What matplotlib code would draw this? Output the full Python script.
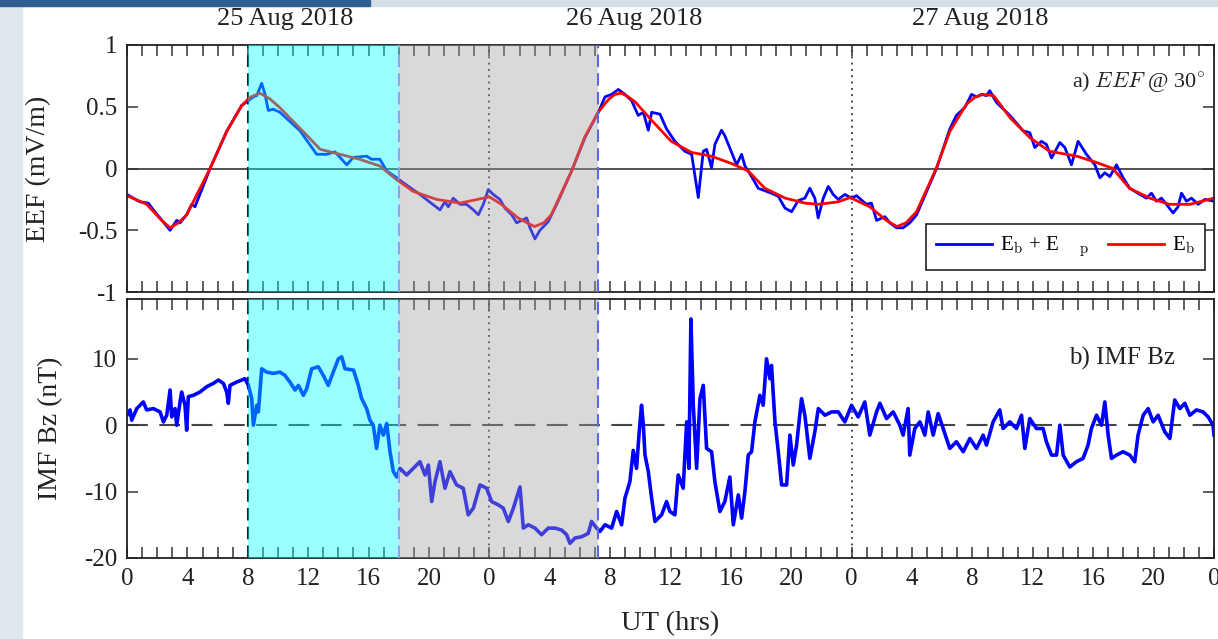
import numpy as np
import matplotlib
matplotlib.use('Agg')
import matplotlib.pyplot as plt
import matplotlib.transforms as mtransforms
from matplotlib.patches import Rectangle
from matplotlib.ticker import MultipleLocator, FuncFormatter

plt.rcParams['font.family'] = ['Liberation Serif', 'DejaVu Serif']
plt.rcParams['mathtext.fontset'] = 'cm'
plt.rcParams['axes.unicode_minus'] = False

# Hours since 25 Aug 2018 00 UT
# EEF background (Eb), smooth red curve, mV/m
eb_hours = [0.0, 1.3, 2.3, 2.85, 3.4, 3.95, 5.5, 6.6, 7.6, 8.15,
            8.8, 9.47, 10.1, 11.5, 12.8, 14.1, 15.4, 16.75, 17.85, 18.95,
            20.5, 22.05, 24.0, 24.8, 25.9, 26.5, 27.0, 27.6, 28.1, 29.45,
            30.3, 31.2, 31.9, 32.32, 32.75, 33.2, 33.65, 34.75, 36.05, 37.4,
            38.7, 40.05, 41.15, 42.25, 43.6, 44.9, 45.8, 47.1, 47.9, 49.2,
            50.3, 51.0, 51.6, 52.3, 53.6, 54.5, 55.6, 56.16, 56.7, 57.4,
            57.9, 58.5, 59.8, 61.1, 62.9, 64.2, 65.3, 66.4, 67.75, 69.05,
            70.4, 72.0]
eb_values = [-0.22, -0.29, -0.42, -0.48, -0.44, -0.375, 0.0, 0.30, 0.51, 0.577,
             0.61, 0.563, 0.495, 0.32, 0.155, 0.115, 0.075, 0.02, -0.09, -0.185,
             -0.25, -0.28, -0.23, -0.29, -0.40, -0.44, -0.47, -0.44, -0.375, -0.02,
             0.25, 0.455, 0.56, 0.60, 0.61, 0.58, 0.54, 0.39, 0.22, 0.13,
             0.10, 0.04, -0.02, -0.16, -0.24, -0.28, -0.29, -0.27, -0.235, -0.31,
             -0.42, -0.47, -0.44, -0.35, 0.0, 0.30, 0.52, 0.577, 0.60, 0.59,
             0.51, 0.41, 0.25, 0.14, 0.10, 0.05, 0.0, -0.16, -0.24, -0.29,
             -0.29, -0.24]

# EEF total (Eb + Ep), blue curve, mV/m
eef_hours = [0.0, 0.42, 0.86, 1.41, 1.74, 2.85, 3.29, 3.51, 3.95, 4.28,
             4.5, 5.5, 6.6, 7.59, 8.37, 8.59, 8.92, 9.14, 9.36, 9.69,
             10.13, 11.46, 12.56, 13.22, 13.77, 14.55, 14.99, 15.87, 16.2, 16.75,
             17.2, 17.86, 18.3, 19.4, 20.73, 21.06, 21.28, 21.61, 22.05, 22.49,
             22.94, 23.27, 23.6, 23.93, 24.26, 24.7, 25.03, 25.48, 25.81, 26.14,
             26.47, 26.69, 27.02, 27.35, 27.9, 28.46, 29.45, 30.33, 31.22, 31.66,
             32.1, 32.54, 32.98, 33.42, 33.86, 34.2, 34.53, 34.75, 35.3, 35.74,
             36.29, 36.95, 37.4, 37.84, 38.17, 38.39, 38.72, 38.94, 39.38, 39.6,
             40.05, 40.38, 40.71, 40.93, 41.37, 41.81, 42.69, 43.14, 43.58, 44.02,
             44.46, 44.9, 45.23, 45.56, 45.78, 46.12, 46.45, 46.78, 47.11, 47.55,
             47.99, 48.32, 48.98, 49.31, 49.65, 50.2, 50.53, 50.97, 51.41, 51.85,
             52.3, 53.62, 54.5, 54.94, 55.5, 55.94, 56.27, 56.6, 56.93, 57.15,
             57.59, 58.48, 59.36, 59.8, 60.13, 60.57, 60.9, 61.24, 61.79, 62.12,
             62.56, 63.0, 63.55, 64.11, 64.44, 64.77, 65.1, 65.54, 65.98, 66.42,
             67.09, 67.53, 67.86, 68.19, 68.52, 68.85, 69.29, 69.62, 69.85, 70.18,
             70.51, 70.95, 71.4, 72.0]
eef_values = [-0.21, -0.24, -0.27, -0.28, -0.335, -0.50, -0.42, -0.44, -0.375, -0.29,
              -0.31, 0.0, 0.30, 0.51, 0.58, 0.59, 0.69, 0.60, 0.47, 0.48,
              0.455, 0.305, 0.115, 0.115, 0.135, 0.03, 0.09, 0.10, 0.075, 0.075,
              -0.02, -0.075, -0.115, -0.21, -0.335, -0.27, -0.31, -0.24, -0.29, -0.29,
              -0.335, -0.375, -0.29, -0.17, -0.21, -0.25, -0.32, -0.375, -0.44, -0.42,
              -0.40, -0.48, -0.57, -0.50, -0.43, -0.29, -0.02, 0.25, 0.455, 0.58,
              0.60, 0.64, 0.60, 0.55, 0.43, 0.455, 0.31, 0.455, 0.44, 0.32,
              0.22, 0.14, 0.115, -0.235, 0.14, 0.155, 0.005, 0.195, 0.31, 0.265,
              0.13, 0.03, 0.115, 0.02, -0.065, -0.16, -0.20, -0.225, -0.32, -0.35,
              -0.26, -0.24, -0.16, -0.24, -0.40, -0.24, -0.145, -0.21, -0.25, -0.21,
              -0.24, -0.22, -0.29, -0.28, -0.42, -0.39, -0.44, -0.48, -0.48, -0.44,
              -0.375, 0.0, 0.32, 0.43, 0.495, 0.60, 0.58, 0.60, 0.59, 0.63,
              0.535, 0.43, 0.305, 0.29, 0.17, 0.22, 0.195, 0.085, 0.21, 0.17,
              0.03, 0.22, 0.115, 0.03, -0.075, -0.035, -0.065, 0.03, -0.075, -0.16,
              -0.21, -0.24, -0.20, -0.265, -0.24, -0.29, -0.36, -0.31, -0.20, -0.265,
              -0.24, -0.29, -0.25, -0.265]

# IMF Bz, nT
bz_hours = [0.0, 0.2, 0.31, 0.64, 1.08, 1.3, 1.74, 2.19, 2.41, 2.63,
            2.85, 2.96, 3.18, 3.29, 3.51, 3.62, 3.84, 3.95, 4.06, 4.39,
            4.83, 5.28, 5.72, 6.05, 6.38, 6.6, 6.71, 6.82, 7.26, 7.59,
            7.81, 8.04, 8.26, 8.37, 8.59, 8.7, 8.92, 9.25, 9.69, 10.13,
            10.46, 10.79, 11.13, 11.35, 11.68, 11.9, 12.23, 12.67, 13.0, 13.33,
            13.66, 14.0, 14.22, 14.44, 15.0, 15.32, 15.54, 15.87, 16.09, 16.31,
            16.53, 16.75, 16.98, 17.2, 17.42, 17.64, 17.86, 18.08, 18.52, 18.96,
            19.4, 19.74, 19.96, 20.18, 20.4, 20.73, 21.06, 21.39, 21.83, 22.27,
            22.6, 22.94, 23.38, 23.82, 24.15, 24.59, 24.92, 25.26, 25.59, 26.03,
            26.25, 26.58, 27.02, 27.46, 27.9, 28.35, 28.79, 29.12, 29.34, 29.67,
            30.11, 30.55, 30.77, 31.1, 31.33, 31.66, 32.1, 32.43, 32.76, 32.98,
            33.31, 33.53, 33.75, 33.91, 34.08, 34.2, 34.31, 34.53, 34.75, 34.97,
            35.41, 35.74, 35.96, 36.29, 36.51, 36.84, 37.07, 37.22, 37.35, 37.51,
            37.73, 37.95, 38.17, 38.39, 38.72, 38.94, 39.27, 39.6, 39.93, 40.16,
            40.49, 40.71, 40.93, 41.15, 41.37, 41.59, 41.92, 42.14, 42.36, 42.58,
            42.69, 42.92, 43.14, 43.36, 43.69, 43.91, 44.13, 44.35, 44.68, 44.9,
            45.23, 45.56, 45.79, 46.23, 46.67, 47.11, 47.55, 47.99, 48.43, 48.87,
            49.2, 49.65, 49.87, 50.31, 50.75, 51.19, 51.41, 51.74, 51.85, 52.18,
            52.52, 52.85, 53.07, 53.4, 53.73, 54.06, 54.5, 54.94, 55.39, 55.83,
            56.27, 56.71, 56.93, 57.37, 57.81, 58.03, 58.48, 58.92, 59.25, 59.47,
            59.8, 60.24, 60.68, 60.9, 61.24, 61.57, 61.79, 62.01, 62.45, 62.89,
            63.33, 63.66, 63.88, 64.22, 64.55, 64.77, 64.99, 65.21, 65.54, 65.98,
            66.42, 66.75, 66.97, 67.31, 67.64, 67.97, 68.3, 68.74, 69.08, 69.4,
            69.74, 70.07, 70.4, 70.84, 71.28, 71.61, 71.94, 72.0]
bz_values = [1.5, 2.3, 0.75, 2.5, 3.5, 2.3, 2.5, 2.0, 0.5, 1.5,
             5.3, 1.25, 2.5, 0.0, 3.5, 5.0, 3.0, -0.75, 4.3, 4.5,
             5.0, 5.8, 6.3, 6.8, 6.3, 5.0, 3.3, 6.0, 6.5, 6.8,
             7.0, 6.0, 4.0, 0.0, 3.0, 2.0, 8.5, 8.0, 7.8, 8.0,
             7.5, 6.5, 5.3, 6.0, 4.5, 5.5, 8.5, 8.8, 7.5, 6.0,
             8.0, 10.0, 10.3, 8.5, 8.3, 6.0, 4.0, 2.5, 0.75, 0.0,
             -3.5, 0.0, -1.5, 0.25, -4.0, -7.0, -7.8, -6.5, -7.5, -6.5,
             -5.5, -7.5, -6.0, -11.5, -8.5, -5.5, -9.5, -7.0, -9.0, -9.5,
             -13.5, -12.5, -9.0, -9.5, -11.5, -12.0, -12.5, -14.5, -12.5, -9.3,
             -15.5, -15.0, -15.5, -16.5, -15.5, -15.5, -15.8, -16.5, -17.8, -17.0,
             -16.8, -16.3, -14.5, -15.5, -16.0, -15.0, -15.5, -13.0, -15.0, -11.0,
             -8.5, -3.8, -6.5, -1.5, 3.0, 0.0, -4.5, -7.0, -11.0, -14.5,
             -13.5, -11.5, -13.0, -13.5, -7.5, -9.5, 0.5, -6.5, 16.0, 3.0,
             -6.5, 4.0, 6.0, -3.5, -4.0, -8.5, -13.0, -11.5, -7.8, -15.0,
             -10.5, -14.0, -10.0, -4.5, -4.0, 0.5, 4.5, 3.0, 10.0, 7.0,
             9.0, 0.5, -4.0, -9.0, -9.0, -1.5, -6.0, -3.0, 4.0, 1.5,
             -5.0, -1.0, 2.5, 1.5, 2.0, 2.0, 0.5, 3.0, 1.25, 3.5,
             -1.5, 2.0, 3.3, 1.0, 2.0, 0.0, -1.5, 2.5, -4.5, -0.5,
             0.5, -1.5, 2.0, -1.5, 1.75, -0.5, -3.5, -2.5, -4.0, -2.0,
             -3.5, -1.5, -3.0, 0.5, 2.3, -0.5, 0.5, -0.5, 1.5, -3.5,
             1.0, -0.5, -0.5, -2.5, -4.5, -4.5, 0.0, -4.5, -6.3, -5.5,
             -5.0, -3.0, -0.5, 1.5, 0.0, 3.5, -1.5, -5.0, -4.5, -4.0,
             -4.5, -5.5, -1.5, 1.5, 2.5, 0.5, 1.5, -1.0, -2.0, 3.8,
             2.5, 3.3, 1.5, 2.3, 2.0, 1.25, 0.0, -1.5]

# Event phases (hours) and day labels
cyan_span = (8.0, 18.0)
gray_span = (18.0, 31.2)
day_marks = [24.0, 48.0]
day_labels = ['25 Aug 2018', '26 Aug 2018', '27 Aug 2018']
day_label_pos = [10.5, 33.6, 56.5]

TEXT = '#222222'


def style_axis(ax):
    """Common frame/tick styling for both panels."""
    ax.set_xlim(0, 72)
    ax.xaxis.set_major_locator(MultipleLocator(4))
    ax.xaxis.set_minor_locator(MultipleLocator(1))
    ax.xaxis.set_major_formatter(FuncFormatter(lambda v, p: f'{int(round(v)) % 24}'))
    ax.tick_params(which='both', direction='in', top=True, right=True,
                   length=8, width=1.1, color='#333333', labelsize=18,
                   labelcolor=TEXT, pad=7)
    for s in ax.spines.values():
        s.set_linewidth(1.3)
        s.set_color('#222222')


def add_phases(ax):
    """Shaded phases plus the boundary and midnight lines."""
    ax.axvspan(*cyan_span, color='#00ffff', alpha=0.4, lw=0, zorder=3)
    ax.axvspan(*gray_span, color='#a0a0a0', alpha=0.4, lw=0, zorder=3)
    ax.axvline(cyan_span[0], color='#222222', lw=1.5, dashes=(6, 3), zorder=1)
    ax.axvline(gray_span[0], color='#9a9aee', lw=1.5, dashes=(6, 3), zorder=4)
    ax.axvline(gray_span[1], color='#5a6ae0', lw=1.5, dashes=(6, 3), zorder=4)
    for d in day_marks:
        ax.axvline(d, color='#333333', lw=1.3, linestyle=(0, (1, 2.5)), zorder=1)


def plot_eef_bz():
    fig = plt.figure(figsize=(12.18, 6.39), dpi=100)

    # slide background peeking around the figure
    fig.patches.append(Rectangle((0, 0), 22 / 1218, 1, transform=fig.transFigure,
                                 color='#dfe7ef', zorder=0))
    fig.patches.append(Rectangle((0, 1 - 6 / 639), 1, 6 / 639, transform=fig.transFigure,
                                 color='#d4dee8', zorder=0))
    fig.patches.append(Rectangle((0, 1 - 6 / 639), 370 / 1218, 6 / 639,
                                 transform=fig.transFigure, color='#2f5f8f', zorder=0))

    ax1 = fig.add_axes([0.1043, 0.5430, 0.8924, 0.3866])
    ax2 = fig.add_axes([0.1043, 0.1268, 0.8924, 0.4052])

    # ---- a) EEF ----
    style_axis(ax1)
    ax1.set_ylim(-1, 1)
    ax1.yaxis.set_major_locator(MultipleLocator(0.5))
    ax1.yaxis.set_major_formatter(FuncFormatter(lambda v, p: f'{v:g}'))
    ax1.tick_params(labelbottom=False)
    ax1.axhline(0, color='#333333', lw=1.2, zorder=1)
    add_phases(ax1)
    l1, = ax1.plot(eef_hours, eef_values, color='#0000ff', lw=2.0, zorder=2)
    l2, = ax1.plot(eb_hours, eb_values, color='#ff0000', lw=2.0, zorder=2)
    ax1.set_ylabel('EEF (mV/m)', fontsize=20, color=TEXT)
    ax1.yaxis.set_label_coords(-0.070, 0.5)
    ax1.text(0.992, 0.846, r'a) $EEF$ @ 30$^{\circ}$', transform=ax1.transAxes,
             ha='right', va='center', fontsize=16, color=TEXT)
    leg = ax1.legend([l1, l2], [r'E$_\mathrm{b}$ + E    $_\mathrm{p}$', r'E$_\mathrm{b}$'],
                     loc='lower right', bbox_to_anchor=(0.992, 0.09), ncol=2,
                     fontsize=15, frameon=True, fancybox=False, framealpha=1,
                     edgecolor='#222222', handlelength=2.7, handletextpad=0.35,
                     columnspacing=0.9, borderaxespad=0, borderpad=0.5)
    leg.get_frame().set_linewidth(1.2)

    # day labels above the top panel
    trans = mtransforms.blended_transform_factory(ax1.transData, fig.transFigure)
    for pos, lab in zip(day_label_pos, day_labels):
        ax1.text(pos, 0.970, lab, transform=trans, ha='center', va='center',
                 fontsize=19, color=TEXT)

    # ---- b) IMF Bz ----
    style_axis(ax2)
    ax2.set_ylim(-20, 19)
    ax2.set_yticks([-20, -10, 0, 10])
    ax2.axhline(0, color='#444444', lw=1.5, dashes=(10, 5.5), zorder=1)
    add_phases(ax2)
    ax2.plot(bz_hours, bz_values, color='#0000ff', lw=2.6, zorder=2)
    ax2.set_ylabel('IMF Bz (nT)', fontsize=20, color=TEXT)
    ax2.yaxis.set_label_coords(-0.059, 0.5)
    ax2.set_xlabel('UT (hrs)', fontsize=20.5, color=TEXT)
    ax2.xaxis.set_label_coords(0.5, -0.205)
    ax2.text(0.964, 0.772, 'b) IMF Bz', transform=ax2.transAxes,
             ha='right', va='center', fontsize=18, color=TEXT)

    fig.savefig('out.png', dpi=100, facecolor='white')


if __name__ == '__main__':
    plot_eef_bz()
